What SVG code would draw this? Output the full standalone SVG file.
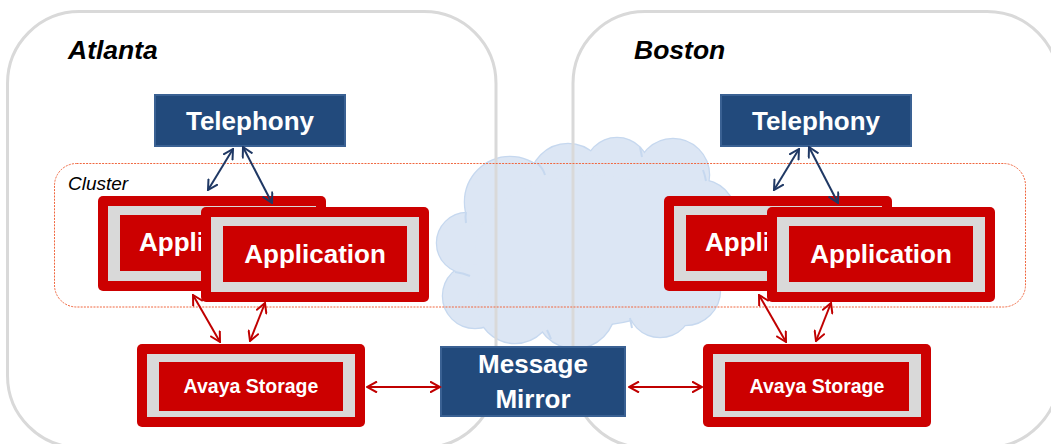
<svg xmlns="http://www.w3.org/2000/svg" xmlns:xlink="http://www.w3.org/1999/xlink" width="1051" height="444" viewBox="0 0 1051 444">
<style>
  .site { fill: none; stroke: #d9d9d9; stroke-width: 3; }
  .title { font-family: "Liberation Sans", Arial, sans-serif; font-weight: bold; font-style: italic; font-size: 26.5px; fill: #000; }
  .cluster { fill: none; stroke: #f0673f; stroke-width: 1; stroke-dasharray: 2 1.2; }
  .clabel { font-family: "Liberation Sans", Arial, sans-serif; font-style: italic; font-size: 19px; fill: #000; }
  .blue { fill: #224a7c; stroke: #3a6193; stroke-width: 2; }
  .outer { fill: #cc0000; }
  .band { fill: #d9d9d9; }
  .inner { fill: #cc0000; }
  .lbl { font-family: "Liberation Sans", Arial, sans-serif; font-weight: bold; font-size: 26px; fill: #fff; text-anchor: middle; }
  .lbls { font-family: "Liberation Sans", Arial, sans-serif; font-weight: bold; font-size: 26px; fill: #fff; }
  .slbl { font-family: "Liberation Sans", Arial, sans-serif; font-weight: bold; font-size: 19.5px; fill: #fff; text-anchor: middle; }
  .cb { fill: none; stroke: #1f3864; stroke-width: 2; marker-start: url(#mb); marker-end: url(#mb); }
  .cr { fill: none; stroke: #c00000; stroke-width: 2; marker-start: url(#mr); marker-end: url(#mr); }
  .cloudS { fill: #dce6f4; stroke: #c6d8ef; stroke-width: 2.5; }
  .cloudF { fill: #dce6f4; stroke: none; }
  .tail { fill: none; stroke: #c6d8ef; stroke-width: 2; }
</style>
<defs>
  <marker id="mb" viewBox="0 0 12 12" refX="10.5" refY="6" markerWidth="12" markerHeight="12" markerUnits="userSpaceOnUse" orient="auto-start-reverse">
    <path d="M0.5,0.5 L10.5,6 L0.5,11.5" fill="none" stroke="#1f3864" stroke-width="2"/>
  </marker>
  <marker id="mr" viewBox="0 0 12 12" refX="10.5" refY="6" markerWidth="12" markerHeight="12" markerUnits="userSpaceOnUse" orient="auto-start-reverse">
    <path d="M0.5,0.5 L10.5,6 L0.5,11.5" fill="none" stroke="#c00000" stroke-width="2"/>
  </marker>
  <g id="cloudShape">
    <circle cx="467" cy="243" r="30"/>
    <circle cx="475" cy="296" r="32"/>
    <circle cx="510" cy="202" r="45"/>
    <circle cx="568" cy="182" r="38"/>
    <circle cx="617" cy="170" r="32"/>
    <circle cx="673" cy="175" r="36"/>
    <circle cx="700" cy="215" r="35"/>
    <circle cx="685" cy="290" r="35"/>
    <circle cx="660" cy="305" r="32"/>
    <circle cx="575" cy="308" r="40"/>
    <circle cx="515" cy="305" r="38"/>
    <ellipse cx="590" cy="250" rx="115" ry="75"/>
  </g>
</defs>

<g id="cloud">
  <use xlink:href="#cloudShape" class="cloudS"/>
  <use xlink:href="#cloudShape" class="cloudF"/>
  <path class="tail" d="M537,163 Q543,168 545,175"/>
  <path class="tail" d="M466,212 Q465,217 466,223"/>
  <path class="tail" d="M455,272 Q463,273 470,276"/>
  <path class="tail" d="M640,147 Q641,152 642,157"/>
  <path class="tail" d="M703,170 Q705,175 706,181"/>
  <path class="tail" d="M547,330 Q549,334 551,339"/>
  <path class="tail" d="M630,318 Q631,323 632,328"/>
</g>

<g id="site-atlanta">
  <rect class="site" x="7.5" y="11.5" width="488.5" height="436" rx="72" ry="72"/>
  <text class="title" x="68" y="59">Atlanta</text>
</g>
<g id="site-boston">
  <rect class="site" x="573" y="11.5" width="486" height="436" rx="72" ry="72"/>
  <text class="title" x="634" y="59">Boston</text>
</g>

<g id="cluster">
  <rect class="cluster" x="54.5" y="163.5" width="971" height="143.5" rx="22" ry="22"/>
  <text class="clabel" x="68" y="190">Cluster</text>
</g>

<g id="telephony-atlanta">
  <rect class="blue" x="155" y="95" width="190" height="51"/>
  <text class="lbl" x="250" y="130">Telephony</text>
</g>
<g id="telephony-boston">
  <rect class="blue" x="721" y="95" width="190" height="51"/>
  <text class="lbl" x="816" y="130">Telephony</text>
</g>

<g id="app-atlanta-1">
  <rect class="outer" x="98" y="196" width="228" height="95" rx="5"/>
  <rect class="band" x="108" y="206" width="208" height="75"/>
  <rect class="inner" x="120" y="215" width="184" height="56"/>
  <text class="lbls" x="139" y="251">Appli</text>
</g>
<g id="app-atlanta-2">
  <rect class="outer" x="201" y="207" width="228" height="95" rx="5"/>
  <rect class="band" x="211" y="217" width="208" height="75"/>
  <rect class="inner" x="223" y="226" width="184" height="56"/>
  <text class="lbl" x="315" y="263">Application</text>
</g>
<g id="app-boston-1">
  <rect class="outer" x="664" y="196" width="228" height="95" rx="5"/>
  <rect class="band" x="674" y="206" width="208" height="75"/>
  <rect class="inner" x="686" y="215" width="184" height="56"/>
  <text class="lbls" x="705" y="251">Appli</text>
</g>
<g id="app-boston-2">
  <rect class="outer" x="767" y="207" width="228" height="95" rx="5"/>
  <rect class="band" x="777" y="217" width="208" height="75"/>
  <rect class="inner" x="789" y="226" width="184" height="56"/>
  <text class="lbl" x="881" y="263">Application</text>
</g>

<g id="storage-atlanta">
  <rect class="outer" x="137" y="344" width="228" height="83" rx="5"/>
  <rect class="band" x="147" y="354" width="208" height="63"/>
  <rect class="inner" x="159" y="362" width="184" height="49"/>
  <text class="slbl" x="251" y="393">Avaya Storage</text>
</g>
<g id="storage-boston">
  <rect class="outer" x="703" y="344" width="228" height="83" rx="5"/>
  <rect class="band" x="713" y="354" width="208" height="63"/>
  <rect class="inner" x="725" y="362" width="184" height="49"/>
  <text class="slbl" x="817" y="393">Avaya Storage</text>
</g>

<g id="message-mirror">
  <rect class="blue" x="441" y="347" width="184" height="69"/>
  <text class="lbl" x="533" y="373">Message</text>
  <text class="lbl" x="533" y="408">Mirror</text>
</g>

<g id="connectors">
  <line class="cb" x1="233" y1="149" x2="208" y2="190"/>
  <line class="cb" x1="243" y1="147" x2="272" y2="203"/>
  <line class="cb" x1="799" y1="149" x2="774" y2="190"/>
  <line class="cb" x1="809" y1="147" x2="838" y2="203"/>
  <line class="cr" x1="193" y1="295" x2="220" y2="342"/>
  <line class="cr" x1="265" y1="303" x2="250" y2="341"/>
  <line class="cr" x1="759" y1="295" x2="786" y2="342"/>
  <line class="cr" x1="831" y1="303" x2="816" y2="341"/>
  <line class="cr" x1="367" y1="387" x2="440" y2="387"/>
  <line class="cr" x1="629" y1="387" x2="702" y2="387"/>
</g>
</svg>
